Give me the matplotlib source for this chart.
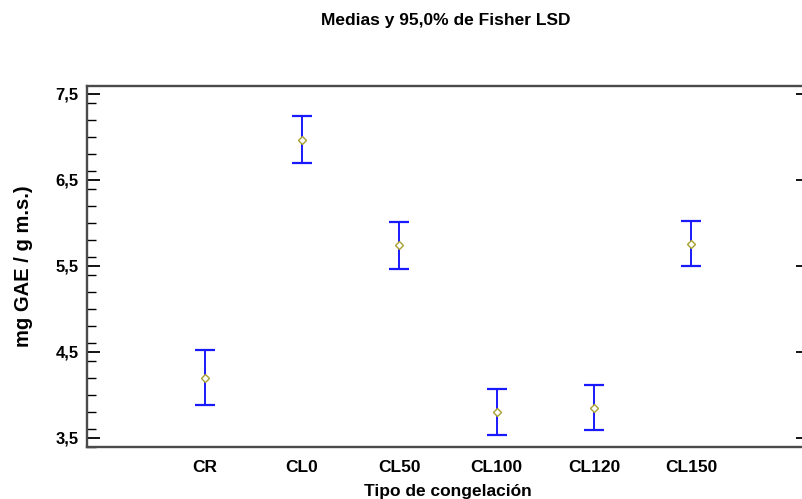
import numpy as np
import matplotlib
matplotlib.use("Agg")
import matplotlib.pyplot as plt
from matplotlib.ticker import MultipleLocator, FixedLocator

plt.rcParams['font.family'] = ['Liberation Sans', 'DejaVu Sans']
plt.rcParams['font.weight'] = 'bold'

# Means and 95% Fisher LSD intervals
groups = ["CR", "CL0", "CL50", "CL100", "CL120", "CL150"]
means = [4.20, 6.96, 5.74, 3.80, 3.85, 5.75]
lower = [3.88, 6.70, 5.47, 3.53, 3.59, 5.50]
upper = [4.52, 7.24, 6.01, 4.07, 4.12, 6.02]
yticks = [3.5, 4.5, 5.5, 6.5, 7.5]

x = np.arange(1, len(groups) + 1)
means = np.array(means)
yerr = [means - np.array(lower), np.array(upper) - means]

fig = plt.figure(figsize=(8.02, 4.99), dpi=100)
ax = fig.add_axes([87/802, 1 - 447/499, (809 - 87)/802, (447 - 86)/499])

ax.errorbar(x, means, yerr=yerr, fmt='none', ecolor='#1a1aff', elinewidth=1.4,
            capsize=7, capthick=1.6)
ax.plot(x, means, linestyle='none', marker='D', markersize=4,
        markerfacecolor='white', markeredgecolor='#a8a030', markeredgewidth=1.0)

ax.set_xlim(-0.21, 7.21)
ax.set_ylim(3.395, 7.593)

ax.xaxis.set_major_locator(FixedLocator(x))
ax.set_xticklabels(groups, fontsize=12.5, fontweight='bold')
ax.tick_params(axis='x', length=0, pad=9)

ax.yaxis.set_minor_locator(MultipleLocator(0.2))
ax.set_yticks(yticks)
ax.set_yticklabels([f"{v:.1f}".replace('.', ',') for v in yticks],
                   fontsize=12, fontweight='bold')
ax.tick_params(axis='y', which='major', direction='in', length=9.5, width=1.3,
               right=True, pad=6, color='black')
ax.tick_params(axis='y', which='minor', direction='in', length=6.5, width=1.0,
               right=False, color='black')

for s in ax.spines.values():
    s.set_color('#4a4a4a')
    s.set_linewidth(1.7)

ax.set_ylabel("mg GAE / g m.s.)", fontsize=14.5, fontweight='bold', labelpad=16)
ax.set_xlabel("Tipo de congelación", fontsize=12.5, fontweight='bold', labelpad=7)

fig.text(446/802, 1 - 20/499, "Medias y 95,0% de Fisher LSD", ha='center', va='center',
         fontsize=12.5, fontweight='bold')

fig.savefig("out.png", dpi=100)
